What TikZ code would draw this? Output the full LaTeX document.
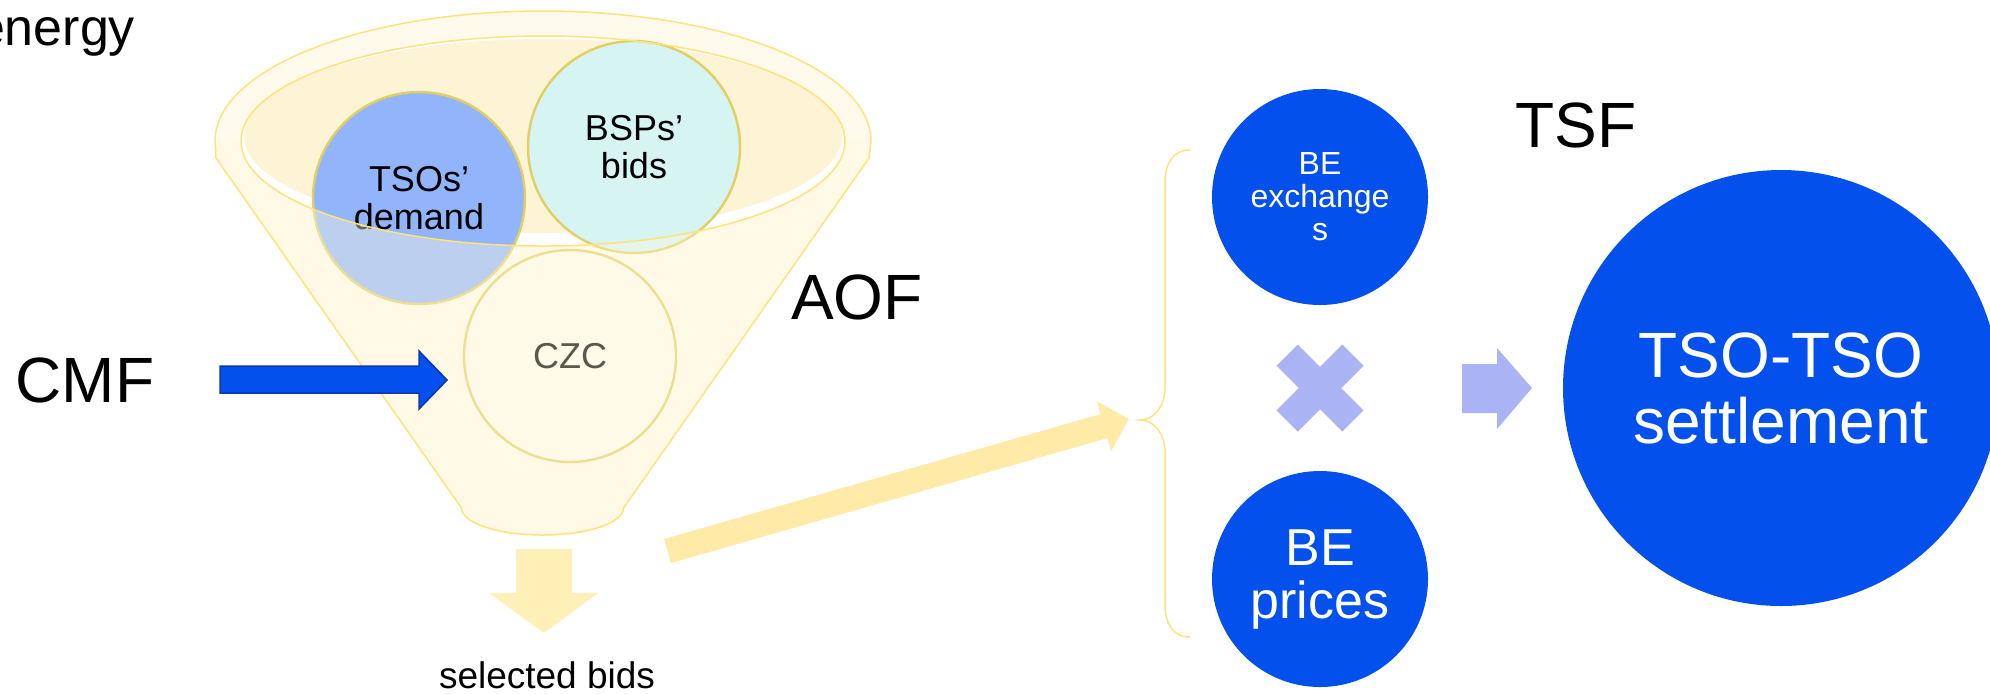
\documentclass[tikz,border=0pt]{standalone}
\usepackage{fontspec}
\setmainfont{Liberation Sans}
\definecolor{funnelbody}{HTML}{FFFAEB}
\definecolor{czcfill}{HTML}{FFF9E8}
\definecolor{overlayc}{HTML}{FFF8E0}
\definecolor{funnelline}{HTML}{FFE27A}
\definecolor{innerfill}{HTML}{FDF4D6}
\definecolor{tsofill}{HTML}{92B4FA}
\definecolor{bspfill}{HTML}{D6F4F2}
\definecolor{circline}{HTML}{E2CE62}
\definecolor{czcline}{HTML}{EEDF90}
\definecolor{czctext}{HTML}{5C574B}
\definecolor{beblue}{HTML}{0450EC}
\definecolor{cmfblue}{HTML}{0350EE}
\definecolor{cmfline}{HTML}{0A3AA8}
\definecolor{paleyellow}{HTML}{FFF0B8}
\definecolor{diagyellow}{HTML}{FFEAA8}
\definecolor{lilac}{HTML}{AAB4F5}
\newcommand{\fbig}{\fontsize{32}{33}\selectfont}
\newcommand{\fmid}{\fontsize{26}{26.5}\selectfont}
\newcommand{\fsmall}{\fontsize{18}{18.8}\selectfont}
\newcommand{\fsel}{\fontsize{18.5}{19}\selectfont}
\newcommand{\fbe}{\fontsize{16}{16.5}\selectfont}
\newcommand{\fen}{\fontsize{26}{27}\selectfont}
\begin{document}
\begin{tikzpicture}[x=0.5pt,y=-0.5pt,
  txt/.style={inner sep=0pt, outer sep=0pt, text=black},
  circ/.style={circle, inner sep=0pt, align=center},
  outl/.style={draw=funnelline, line width=0.75pt}]
\useasboundingbox (0,0) rectangle (1990,693);
\clip (0,0) rectangle (1990,693);
% funnel body
\path[fill=funnelbody] (215,141) arc[start angle=180,end angle=360,x radius=328,y radius=130]
  -- (869,158) -- (623.5,508) arc[start angle=0,end angle=180,x radius=81,y radius=27]
  -- (216,158) -- cycle;
\fill[white] (543,141) ellipse[x radius=302, y radius=105];
\fill[innerfill] (543,136) ellipse[x radius=299, y radius=97];
% circles in the funnel opening
\node[circ, minimum size=106pt, fill=tsofill, draw=circline, line width=1.2pt, font=\fsmall] (tso) at (419,198) {TSOs’\\demand};
\node[circ, minimum size=106pt, fill=bspfill, draw=circline, line width=1.2pt, font=\fsmall] (bsp) at (634,147) {BSPs’\\bids};
% funnel front (translucent)
\fill[overlayc, opacity=0.4] (215,141) -- (216,158) -- (461.5,508)
  arc[start angle=180,end angle=0,x radius=81,y radius=27]
  -- (869,158) -- (871,141) -- (845,141)
  arc[start angle=0,end angle=180,x radius=302,y radius=105] -- cycle;
\draw[outl] (543,141) ellipse[x radius=302, y radius=105];
\draw[outl] (215,141) arc[start angle=180,end angle=360,x radius=328,y radius=130]
  -- (869,158) -- (623.5,508) arc[start angle=0,end angle=180,x radius=81,y radius=27]
  -- (216,158) -- cycle;
\node[circ, minimum size=106pt, fill=czcfill, draw=czcline, line width=1.2pt, font=\fsmall, text=czctext] (czc) at (570,356) {CZC};
% labels
\node[txt, font=\fen, anchor=base east] (energy) at (135,45) {energy};
\node[txt, font=\fbig, anchor=base] (cmf) at (85,402) {CMF};
\node[txt, font=\fbig, anchor=base] (aof) at (857,319) {AOF};
\node[txt, font=\fbig, anchor=base] (tsf) at (1576,147) {TSF};
\node[txt, font=\fsel, anchor=base] (sel) at (547,688) {selected bids};
% CMF arrow
\draw[fill=cmfblue, draw=cmfline, line width=0.75pt, line join=miter]
  (220,366) -- (419,366) -- (419,351) -- (447,380) -- (419,409) -- (419,393) -- (220,393) -- cycle;
% down arrow
\fill[paleyellow] (516,549) -- (572,549) -- (572,593) -- (598,593) -- (544,633) -- (489,593) -- (516,593) -- cycle;
% diagonal arrow
\fill[diagyellow] (664.1,539) -- (1100.6,414.1) -- (1096.9,401.1) -- (1129,419) -- (1111.1,451.1) -- (1107.4,438.1) -- (670.9,563) -- cycle;
% brace
\draw[funnelline, line width=0.75pt] (1190,150) .. controls (1172,150) and (1165,165) .. (1165,182)
  -- (1165,388) .. controls (1165,405) and (1155,420) .. (1140,420)
  .. controls (1155,420) and (1165,435) .. (1165,452)
  -- (1165,605) .. controls (1165,622) and (1172,637) .. (1190,637);
% BE circles
\node[circ, minimum size=108pt, fill=beblue, text=white, font=\fbe] (bex) at (1320,197) {BE\\exchange\\s};
\node[circ, minimum size=108pt, fill=beblue, text=white, font=\fmid] (bep) at (1320,579) {BE\\prices};
% cross
\fill[lilac, rotate around={45:(1320,388)}] (1273.5,373) rectangle (1366.5,403);
\fill[lilac, rotate around={-45:(1320,388)}] (1273.5,373) rectangle (1366.5,403);
% right arrow
\fill[lilac] (1462,364) -- (1497,364) -- (1497,348) -- (1532,388) -- (1497,429) -- (1497,413) -- (1462,413) -- cycle;
% settlement
\node[circ, minimum size=218pt, fill=beblue, text=white, font=\fbig] (sett) at (1781,388) {TSO-TSO\\settlement};
\end{tikzpicture}
\end{document}
